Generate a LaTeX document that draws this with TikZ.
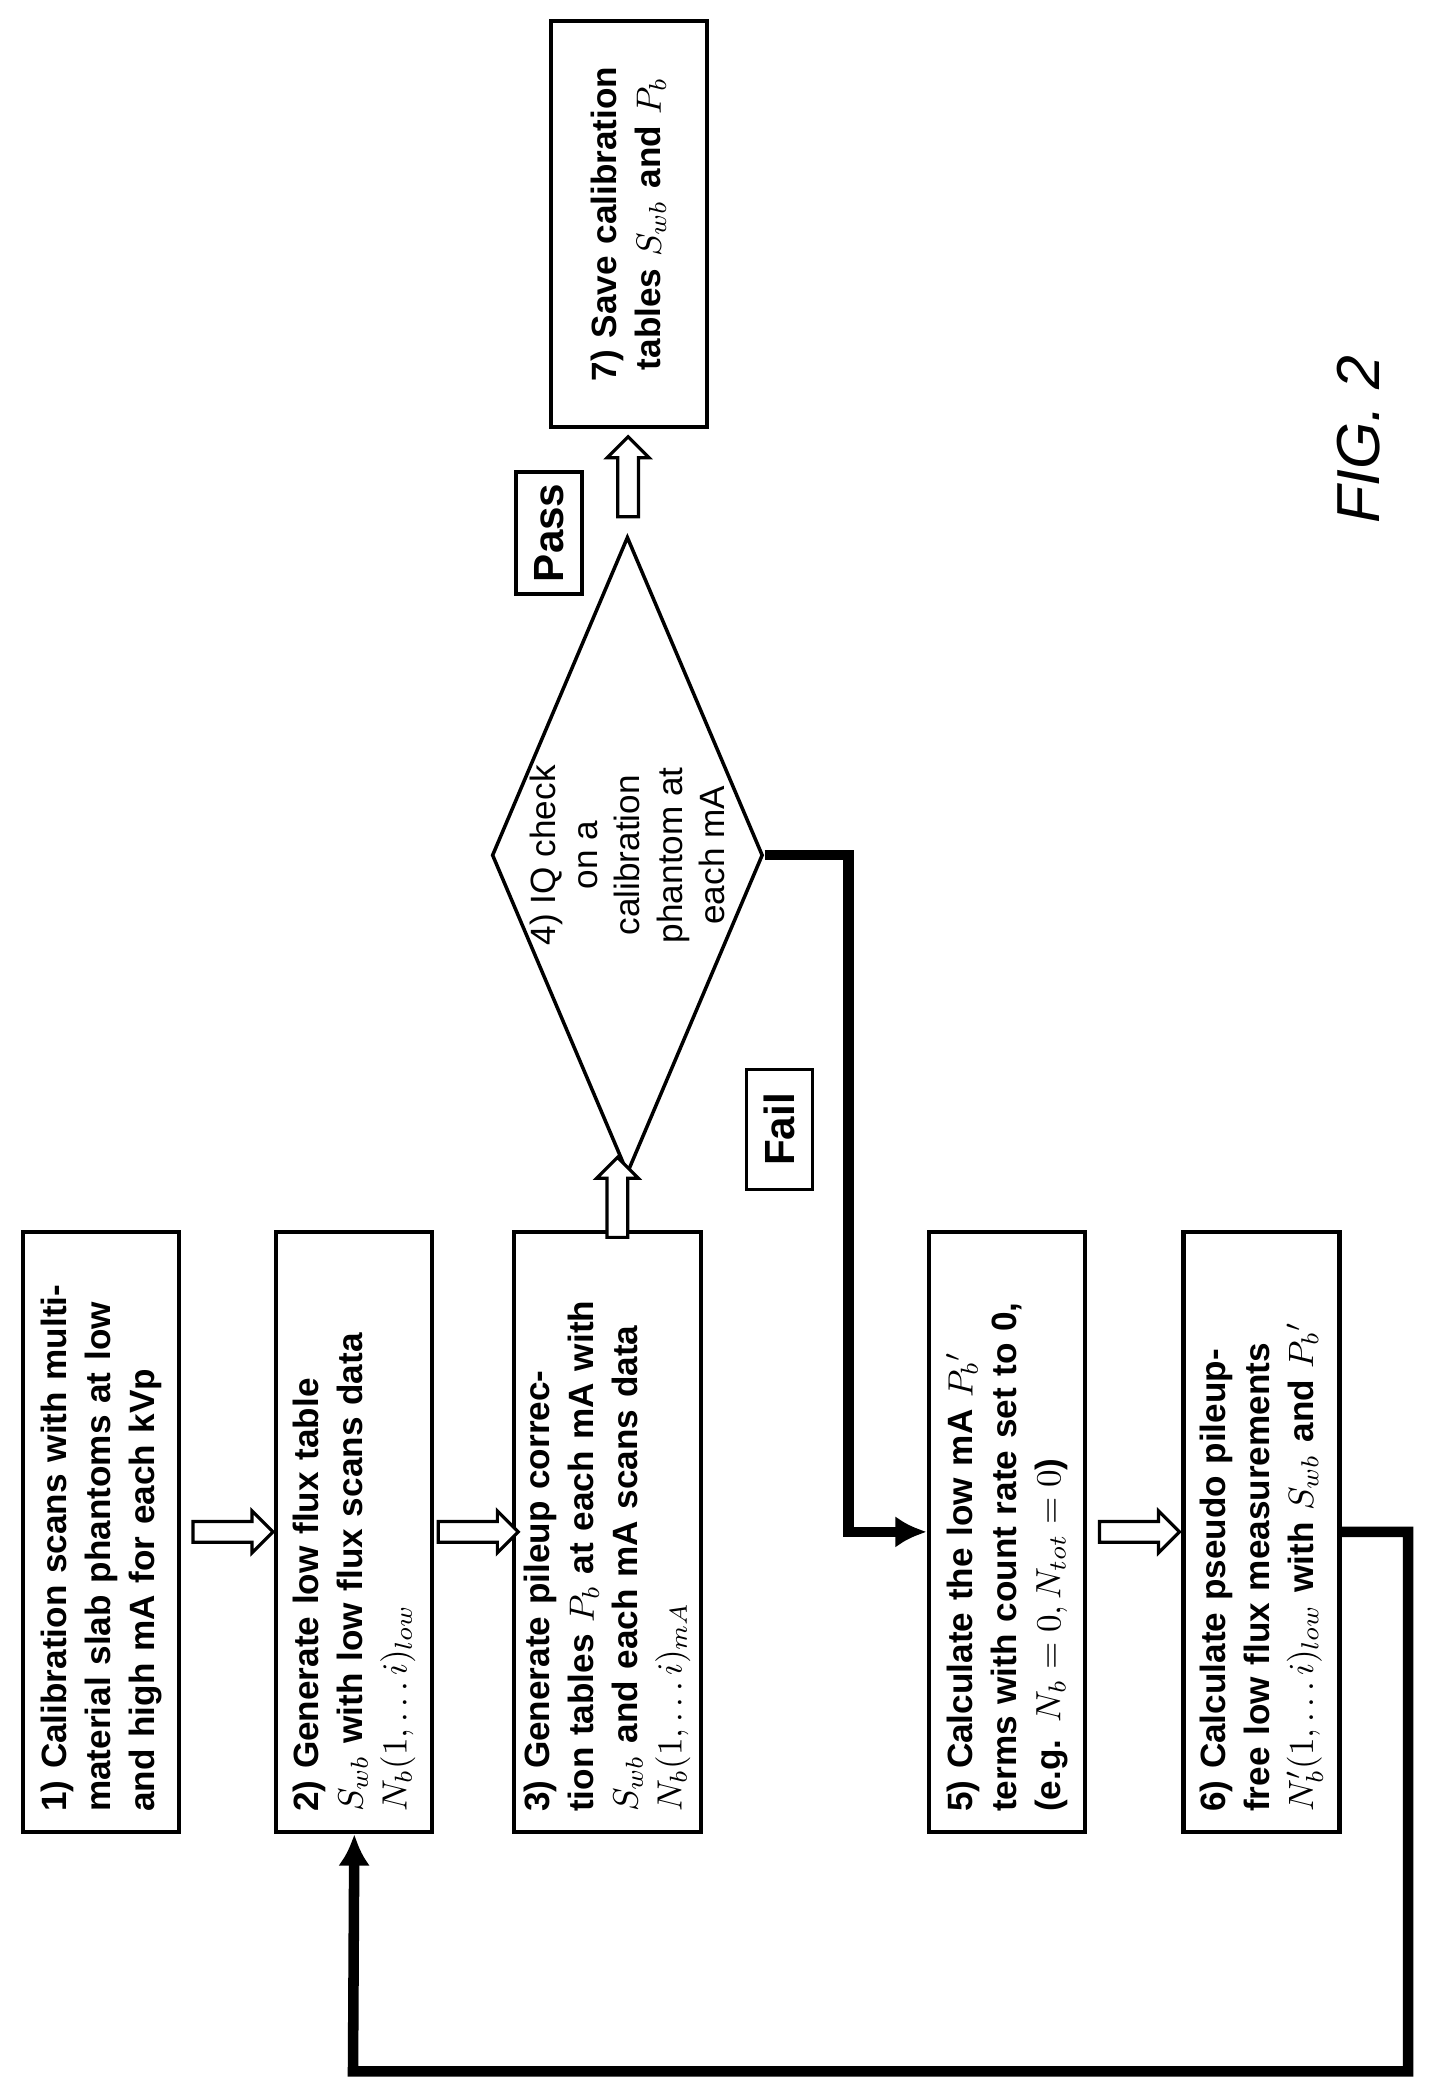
\documentclass[tikz,border=0pt]{standalone}
\usepackage{fontspec}
\setmainfont{Liberation Sans}
\setsansfont{Liberation Sans}
\usetikzlibrary{calc,shapes.geometric,shapes.arrows,arrows.meta}
\tikzstyle{stepbox}=[rectangle, draw, line width=1.2pt, rotate=90, minimum width=6cm, minimum height=1.56cm, text width=5.6cm, align=left, inner sep=3pt, font=\bfseries\fontsize{10}{12.5}\selectfont]
\tikzstyle{hollow}=[single arrow, draw, line width=0.9pt, fill=white, minimum height=0.8cm, single arrow head extend=3pt, inner sep=2.5pt]
\tikzstyle{flow}=[line width=3pt, -{Latex[length=9pt, width=9pt]}]
\tikzstyle{tag}=[rectangle, draw, line width=1pt, rotate=90, minimum width=1.2cm, minimum height=0.66cm, font=\bfseries\large]
\begin{document}
\begin{tikzpicture}[x=0.01332cm, y=-0.01332cm]
\useasboundingbox (0,0) rectangle (1075,1566);

\node [stepbox] (s1) at (76,1150) {1) Calibration scans with multi-material slab phantoms at low and high mA for each kVp};
\node [stepbox] (s2) at (266,1150) {2) Generate low flux table $S_{wb}$ with low flux scans data $N_b(1,\dots i)_{low}$};
\node [stepbox] (s3) at (456,1150) {3) Generate pileup correction tables $P_b$ at each mA with $S_{wb}$ and each mA scans data $N_b(1,\dots i)_{mA}$};
\node [stepbox] (s5) at (756,1150) {5) Calculate the low mA $P_b{}'$ terms with count rate set to 0, (e.g. $N_b=0, N_{tot}=0$)};
\node [stepbox] (s6) at (947,1150) {6) Calculate pseudo pileup-free low flux measurements $N_b'(1,\dots i)_{low}$ with $S_{wb}$ and $P_b{}'$};
\node [stepbox, minimum width=4.06cm, text width=3.6cm, align=center] (s7) at (472,168) {7) Save calibration tables $S_{wb}$ and $P_b$};

\node [diamond, draw, line width=1pt, rotate=90, minimum width=6.33cm, minimum height=2.69cm, inner sep=0pt, aspect=2.35, align=center, font=\fontsize{10}{12}\selectfont] (iq) at (471,642) {4) IQ check\\on a\\calibration\\phantom at\\each mA};

\node [tag] (pass) at (412,400) {Pass};
\node [tag] (fail) at (585,848) {Fail};
\node [rotate=90, font=\itshape\LARGE] (fig) at (1020,330) {FIG. 2};

\node [hollow] (a12) at ($(s1.south)!0.5!(s2.north)$) {};
\node [hollow] (a23) at ($(s2.south)!0.5!(s3.north)$) {};
\node [hollow] (a56) at ($(s5.south)!0.5!(s6.north)$) {};
\node [hollow, rotate=90] (a34) at ($(s3.east)!0.5!(iq.west)$) {};
\node [hollow, rotate=90] (a47) at ($(iq.east)!0.5!(s7.west)$) {};

\draw [flow] (iq.south) -- ++(63,0) |- (s5.north);
\draw [flow] (s6.south) -- ++(50,0) |- (265,1555) -- (s2.west);

\end{tikzpicture}
\end{document}
